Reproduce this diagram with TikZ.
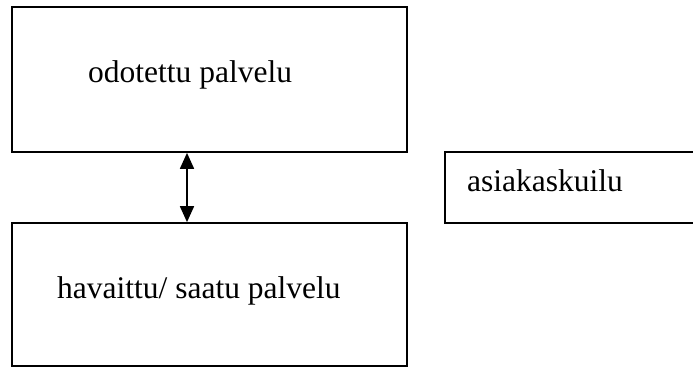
\documentclass[tikz,border=0pt]{standalone}
\usepackage{fontspec}
\setmainfont{Liberation Serif}
\usetikzlibrary{arrows.meta}
\tikzset{
  boxshape/.style={draw=black, line width=1.7pt, inner sep=0pt, rectangle},
  txt/.style={inner sep=0pt, anchor=base west, font=\fontsize{31.5}{36}\selectfont},
  dblarrow/.style={line width=1.8pt, {Triangle[length=16pt,width=14pt]}-{Triangle[length=16pt,width=14pt]}}
}
\begin{document}
\begin{tikzpicture}[x=1pt,y=1pt]
\useasboundingbox (0,0) rectangle (693,367);
\node[boxshape, minimum width=395pt, minimum height=145pt] (top) at (209.5,287.5) {};
\node[boxshape, minimum width=395pt, minimum height=143pt] (bot) at (209.5,72.5) {};
\node[boxshape, minimum width=255pt, minimum height=71pt] (gap) at (572.5,179.5) {};
\node[txt] (toptxt) at (88,284) {odotettu palvelu};
\node[txt] (bottxt) at (57,69) {havaittu/ saatu palvelu};
\node[txt] (gaptxt) at (467,175) {asiakaskuilu};
\coordinate (ax) at (187,0);
\draw[dblarrow] (top.south -| ax) -- (bot.north -| ax);
\end{tikzpicture}
\end{document}
